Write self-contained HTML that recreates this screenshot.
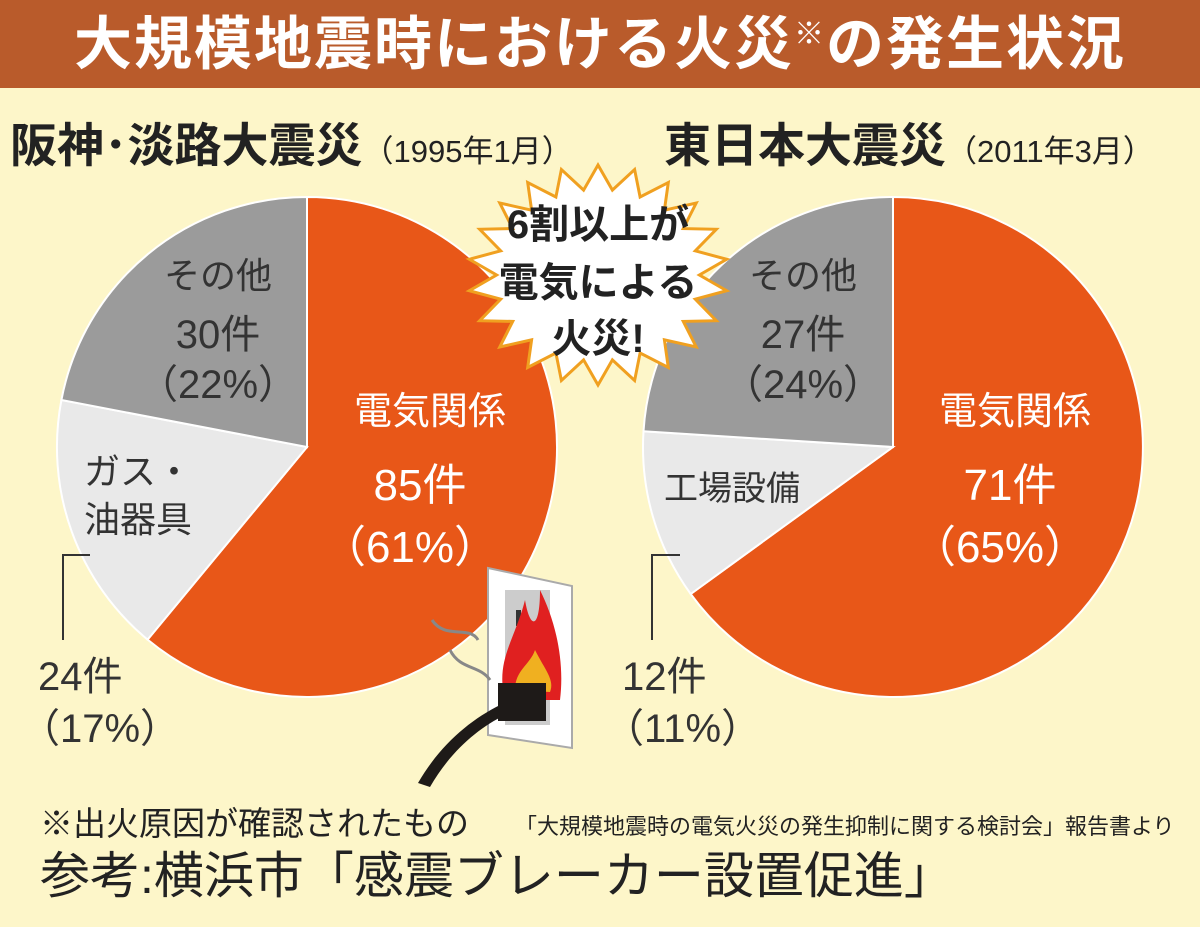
<!DOCTYPE html>
<html><head><meta charset="utf-8"><style>
body{margin:0;width:1200px;height:927px;background:#fdf6c9;overflow:hidden;font-family:"Liberation Sans","Noto Sans CJK JP",sans-serif}
svg{position:absolute;left:0;top:0}
</style></head><body>
<svg width="1200" height="927" viewBox="0 0 1200 927" font-family="'Liberation Sans','Noto Sans CJK JP',sans-serif">
<rect x="0" y="0" width="1200" height="88" fill="#b95b2b"/>
<text x="600" y="64" text-anchor="middle" font-size="58" font-weight="bold" fill="#fff" letter-spacing="2">大規模地震時における火災<tspan font-size="30" dy="-20">※</tspan><tspan dy="20">の発生状況</tspan></text>
<text x="10" y="162" font-size="47" font-weight="bold" fill="#222">阪神･淡路大震災<tspan font-size="31" font-weight="normal">（1995年1月）</tspan></text>
<text x="664" y="162" font-size="47" font-weight="bold" fill="#222">東日本大震災<tspan font-size="31" font-weight="normal">（2011年3月）</tspan></text>
<g stroke="#fff" stroke-width="2">
<path d="M307,447 L307,197 A250,250 0 1 1 147.6,639.6 Z" fill="#e85718"/>
<path d="M307,447 L147.6,639.6 A250,250 0 0 1 61.4,400 Z" fill="#e9e9e9"/>
<path d="M307,447 L61.4,400 A250,250 0 0 1 307,197 Z" fill="#9b9b9b"/>
<path d="M893,447 L893,197 A250,250 0 1 1 690.7,594 Z" fill="#e85718"/>
<path d="M893,447 L690.7,594 A250,250 0 0 1 643.5,431.3 Z" fill="#e9e9e9"/>
<path d="M893,447 L643.5,431.3 A250,250 0 0 1 893,197 Z" fill="#9b9b9b"/>
</g>
<g font-size="36" fill="#333" text-anchor="middle">
<text x="218" y="288">その他</text><text x="218" y="348" font-size="40">30件</text><text x="218" y="398" font-size="40">（22%）</text>
<text x="138" y="484">ガス・</text><text x="138" y="532">油器具</text>
<text x="803" y="288">その他</text><text x="803" y="348" font-size="40">27件</text><text x="803" y="398" font-size="40">（24%）</text>
<text x="732" y="500" font-size="34">工場設備</text>
</g>
<g fill="#fff" text-anchor="middle">
<text x="430" y="424" font-size="38">電気関係</text><text x="420" y="500" font-size="44">85件</text><text x="410" y="562" font-size="44">（61%）</text>
<text x="1015" y="424" font-size="38">電気関係</text><text x="1010" y="500" font-size="44">71件</text><text x="1000" y="562" font-size="44">（65%）</text>
</g>
<g stroke="#333" stroke-width="2" fill="none"><path d="M90,555 H63 V640"/><path d="M680,555 H652 V640"/></g>
<g font-size="40" fill="#333">
<text x="38" y="690">24件</text><text x="20" y="742">（17%）</text>
<text x="622" y="690">12件</text><text x="604" y="742">（11%）</text>
</g>
<polygon id="burst" fill="#fff" stroke="#f0a020" stroke-width="3"/>
<g font-size="40" font-weight="bold" fill="#222" text-anchor="middle">
<text x="598" y="238">6割以上が</text><text x="598" y="296">電気による</text><text x="598" y="352">火災!</text>
</g>
<polygon points="488,568 572,586 572,748 488,735" fill="#fff" stroke="#aaa" stroke-width="2"/>
<rect x="505" y="590" width="45" height="135" fill="#ccc"/>
<rect x="516" y="610" width="5" height="16" fill="#333"/>
<path d="M505,700 C495,660 515,640 525,600 C530,630 540,630 540,590 C555,620 565,660 560,700 Z" fill="#e02020"/>
<path d="M515,690 C515,670 530,665 535,650 C545,670 555,680 550,692 Z" fill="#f0b020"/>
<path d="M432,620 C445,640 470,625 478,640 M450,650 C460,670 480,665 490,680" stroke="#888" stroke-width="3" fill="none"/>
<rect x="498" y="683" width="48" height="38" fill="#1e1a18"/>
<path d="M500,705 C470,720 440,745 418,783 L430,787 C450,752 478,728 505,715 Z" fill="#1e1a18"/>
<text x="40" y="835" font-size="33" fill="#222">※出火原因が確認されたもの</text>
<text x="515" y="834" font-size="22" fill="#222">「大規模地震時の電気火災の発生抑制に関する検討会」報告書より</text>
<text x="40" y="893" font-size="50" fill="#222">参考:横浜市「感震ブレーカー設置促進」</text>
</svg>
<script>
var p=[],n=22,cx=598,cy=275;
for(var i=0;i<n*2;i++){var a=i*Math.PI/n,r=i%2?0.78:1;p.push((cx+Math.sin(a)*130*r).toFixed(1)+','+(cy-Math.cos(a)*110*r).toFixed(1));}
document.getElementById('burst').setAttribute('points',p.join(' '));
</script>
</body></html>
